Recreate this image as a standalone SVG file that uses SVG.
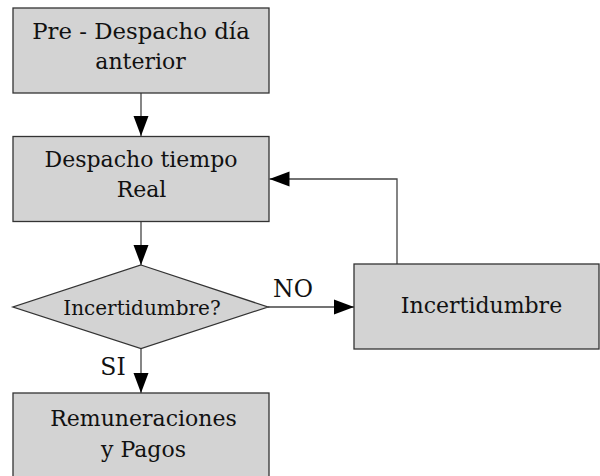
<svg xmlns="http://www.w3.org/2000/svg" width="600" height="476" viewBox="0 0 600 476">
<style>
.n{fill:#d3d3d3;stroke:#333;stroke-width:1.3}
.c{fill:none;stroke:#444;stroke-width:1.3}
text{font-family:'DejaVu Serif','Liberation Serif',serif;font-size:22px;fill:#111;text-anchor:middle}
.s{font-size:20px}
.l{font-size:23.5px}
</style>
<defs>
<marker id="ah" markerUnits="userSpaceOnUse" markerWidth="21" markerHeight="16" refX="20" refY="8" orient="auto">
<path d="M0,0.5 L20,8 L0,15.5 Z" fill="#000"/>
</marker>
</defs>
<rect width="600" height="476" fill="#fff"/>
<g id="connectors">
<line class="c" x1="141" y1="93" x2="141" y2="136" marker-end="url(#ah)"/>
<line class="c" x1="141" y1="221.5" x2="141" y2="265" marker-end="url(#ah)"/>
<line class="c" x1="141" y1="348" x2="141" y2="393" marker-end="url(#ah)"/>
<line class="c" x1="268" y1="307" x2="354" y2="307" marker-end="url(#ah)"/>
<polyline class="c" points="397,264 397,179 269.5,179" marker-end="url(#ah)"/>
<text class="l" x="293" y="297">NO</text>
<text class="l" x="113" y="375">SI</text>
</g>
<g id="predespacho">
<rect class="n" x="13" y="8" width="256" height="85"/>
<text x="141" y="39" style="font-size:22.8px">Pre - Despacho día</text>
<text x="140.5" y="69">anterior</text>
</g>
<g id="despacho">
<rect class="n" x="13" y="136.5" width="256" height="85"/>
<text x="141" y="167">Despacho tiempo</text>
<text x="141.5" y="197">Real</text>
</g>
<g id="decision">
<polygon class="n" points="141,265 268,307 141,348.5 13,307"/>
<text class="s" x="142" y="315">Incertidumbre?</text>
</g>
<g id="incertidumbre">
<rect class="n" x="354" y="264" width="245" height="85"/>
<text x="481.5" y="313">Incertidumbre</text>
</g>
<g id="remuneraciones">
<rect class="n" x="13" y="393" width="256" height="90"/>
<text x="143.5" y="426">Remuneraciones</text>
<text x="143.5" y="457">y Pagos</text>
</g>
</svg>
